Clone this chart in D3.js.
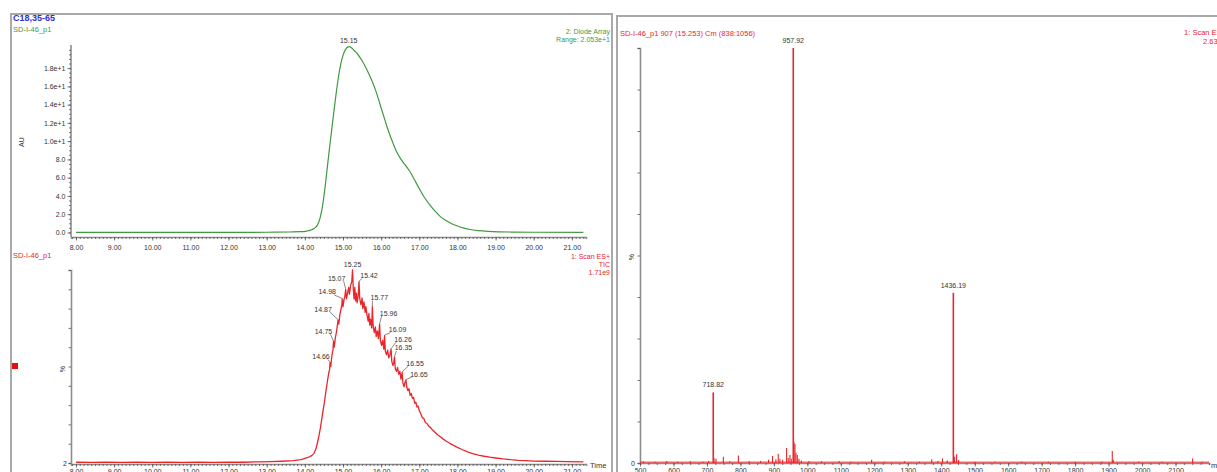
<!DOCTYPE html>
<html><head><meta charset="utf-8">
<script src="https://cdn.jsdelivr.net/npm/d3@7"></script>
<style>
html,body{margin:0;padding:0;background:#fff;}
svg{display:block;font-family:"Liberation Sans",Arial,sans-serif;}
</style></head><body>
<svg id="c" width="1217" height="472"></svg>
<script>
// ---- Diode-array (UV) trace: retention time (min) vs absorbance (AU)
const uvTime = [8.0,9.0,10.0,11.0,12.0,13.0,13.6,13.9,14.05,14.15,14.25,14.33,14.40,14.46,14.52,14.58,14.64,14.70,14.76,14.82,14.88,14.94,15.00,15.06,15.12,15.17,15.23,15.30,15.37,15.50,15.63,15.75,15.87,15.98,16.10,16.20,16.30,16.41,16.52,16.63,16.75,16.87,17.00,17.14,17.28,17.42,17.56,17.70,17.85,18.0,18.15,18.33,18.55,18.8,19.1,19.5,20.0,21.3];
const uvAbs  = [0,0,0,0,0,0.02,0.05,0.08,0.15,0.25,0.45,0.8,1.6,2.8,4.6,6.8,9.0,11.1,13.2,15.2,17.0,18.4,19.4,20.0,20.3,20.35,20.2,19.9,19.6,18.8,17.8,16.7,15.4,13.9,12.3,11.0,9.9,8.8,8.0,7.4,6.7,5.8,4.8,3.8,3.0,2.3,1.7,1.3,0.95,0.7,0.5,0.32,0.2,0.12,0.07,0.04,0.02,0];
const uvPeakTime = 15.15;
const uvYTicks = [0,2,4,6,8,10,12,14,16,18];
const uvYTickLabels = ["0.0","2.0","4.0","6.0","8.0","1.0e+1","1.2e+1","1.4e+1","1.6e+1","1.8e+1"];

// ---- Total ion current: retention time (min) vs relative intensity (%)
const ticTime = [8.00,8.40,8.80,9.20,9.60,10.00,10.40,10.80,11.20,11.60,12.00,12.40,12.80,13.10,13.40,13.70,13.90,14.00,14.10,14.18,14.24,14.29,14.33,14.37,14.41,14.45,14.48,14.51,14.54,14.57,14.60,14.63,14.65,14.66,14.68,14.70,14.72,14.74,14.75,14.77,14.80,14.83,14.85,14.87,14.89,14.92,14.95,14.97,14.98,15.00,15.03,15.05,15.07,15.09,15.12,15.15,15.17,15.20,15.23,15.25,15.27,15.29,15.31,15.33,15.35,15.37,15.40,15.42,15.44,15.47,15.50,15.52,15.55,15.58,15.60,15.63,15.66,15.68,15.70,15.72,15.75,15.77,15.79,15.82,15.85,15.87,15.90,15.93,15.96,15.98,16.01,16.04,16.07,16.09,16.11,16.14,16.17,16.20,16.23,16.26,16.28,16.31,16.33,16.35,16.37,16.40,16.43,16.46,16.49,16.52,16.55,16.57,16.60,16.62,16.65,16.67,16.70,16.73,16.76,16.79,16.82,16.85,16.88,16.91,16.94,16.97,17.00,17.04,17.08,17.12,17.16,17.20,17.25,17.30,17.36,17.42,17.48,17.55,17.62,17.70,17.80,17.90,18.00,18.12,18.25,18.40,18.55,18.70,18.85,19.00,19.20,19.40,19.60,19.80,20.00,20.30,20.60,20.90,21.30];
const ticPct  = [0.4,0.3,0.5,0.3,0.4,0.3,0.5,0.3,0.4,0.3,0.5,0.4,0.6,0.7,0.9,1.2,1.8,2.4,3.0,3.8,5.0,7.2,10.5,14.0,18.5,23.5,27.5,31.0,35.5,39.5,43.5,47.0,48.5,52,50,54,57,59,63,60,65,68,71,74,72,77,80,82,85,81,85,86.5,90,85,88,91,87.5,92,94,100,90,85,91,84,88,83,87,94,85,82,85.5,80,83.5,78,81,76.5,73.5,77.5,71.5,74.5,70,81,71,67.5,70.5,65.5,68.5,64.5,72,63.5,61,63.5,59,66,58,56,58.5,54.5,56,59,52.5,50.5,52,55,49,47.5,49.5,46,47.5,43.5,47,41.5,39.5,41.5,43,39.5,37.5,38.5,35,36,33.5,34,31,31.5,29,29.5,27,25.5,23.5,23,21,20.5,19,18.2,16.8,15.8,14.6,13.6,12.5,11.4,10.2,9.1,8.1,7.0,5.9,4.9,4.1,3.5,3.0,2.6,2.1,1.7,1.4,1.2,1.0,0.9,0.8,0.7,0.6];
const ticTagTime = [14.66,14.75,14.87,14.98,15.07,15.25,15.42,15.77,15.96,16.09,16.26,16.35,16.55,16.65];
const ticTagPct  = [52,63,74,85,90,100,94,81,72,66,59,55,47,43];

// ---- Combined mass spectrum (ES+): m/z vs relative intensity (%)
const msMz  = [510,545,580,612,650,688,705,718.82,721,727,749,768,794,826,860,884,896,906,913,918,926,938,943,948,952,957.92,960,963,966,970,975,982,1005,1042,1095,1130,1192,1230,1290,1335,1371.5,1390,1404,1418,1436.19,1440,1446,1452,1500,1560,1640,1720,1800,1880,1911,1914,1990,2060,2151,2180];
const msInt = [0.4,0.3,0.5,0.3,0.4,0.3,0.5,17,1.2,1.0,1.5,0.4,1.8,0.4,0.5,0.8,1.7,0.9,2.2,1.0,0.8,3.6,1.2,1.9,1.0,100,5,4.6,2.5,1.9,1.0,0.6,0.5,0.4,0.5,0.3,0.8,0.3,0.4,0.3,0.9,0.5,1.1,0.6,41,1.5,2.1,0.7,0.3,0.3,0.3,0.3,0.3,0.3,2.9,0.8,0.3,0.3,1.1,0.3];
const msTagMz = [718.82,957.92,1436.19];

const timeTicks = [8,9,10,11,12,13,14,15,16,17,18,19,20,21];
const timeTickLabels = ["8.00","9.00","10.00","11.00","12.00","13.00","14.00","15.00","16.00","17.00","18.00","19.00","20.00","21.00"];
const mzTicks = [500,600,700,800,900,1000,1100,1200,1300,1400,1500,1600,1700,1800,1900,2000,2100];
const mzTickLabels = mzTicks.map(String);

// ---- layout
const RED = "#e8262b", GREEN = "#3f9a3f", BLUE = "#2f2fd0", AXIS = "#8c8c8c", TXT = "#333";
// label offsets (px) of each TIC peak tag relative to its apex
const tagNudge = [[-9,-6],[-10,-10],[-15,-11],[-15,-7],[-9,-11],[0,-6],[10,-6],[7,-9],[9,-11],[13,-6],[12,-10],[9,-9],[13,-9],[13,-6]];

const svg = d3.select("#c");

// panel frames
const frame = svg.append("g").attr("fill","none").attr("stroke","#a9a9a9").attr("stroke-width",2);
frame.append("path").attr("d","M11,472V14H612V472");
frame.append("path").attr("d","M617,472V16H1217");

function txt(x,y,s,opts={}) {
  const t = svg.append("text").attr("x",x).attr("y",y).text(s)
    .attr("font-size",opts.size||7).attr("fill",opts.fill||TXT)
    .attr("text-anchor",opts.anchor||"start");
  if (opts.weight) t.attr("font-weight",opts.weight);
  if (opts.rotate) t.attr("transform",`rotate(-90,${x},${y})`);
  return t;
}
function styleAxis(g){
  g.select(".domain").attr("stroke",AXIS).attr("stroke-width",1.6);
  g.selectAll(".tick line").attr("stroke","#555").attr("stroke-width",0.8);
  g.selectAll(".tick text").attr("fill",TXT).attr("font-size",7).attr("font-family","Liberation Sans, Arial, sans-serif");
}

// ---- shared time scale
const xT = d3.scaleLinear().domain([7.87,21.37]).range([71,586]);
const minorTime = d3.range(79,214).map(v=>v/10);

function timeAxis(y, labelDy, pad){
  const gMinor = svg.append("g").attr("transform",`translate(0,${y})`)
    .call(d3.axisBottom(xT).tickValues(minorTime).tickSize(2).tickFormat(""));
  styleAxis(gMinor);
  const gMajor = svg.append("g").attr("transform",`translate(0,${y})`)
    .call(d3.axisBottom(xT).tickValues(timeTicks).tickSize(3.5).tickPadding(pad).tickFormat((d,i)=>timeTickLabels[i]));
  styleAxis(gMajor);
  gMajor.select(".domain").remove();
  gMajor.selectAll(".tick text").attr("dy",labelDy);
}

// ---- UV chart
const yUV = d3.scaleLinear().domain([-0.5,20.53]).range([237,45]);
txt(13,21,"C18,35-65",{size:9,fill:BLUE,weight:"bold"});
txt(13,32,"SD-I-46_p1",{size:7.5,fill:GREEN});
txt(610,34,"2: Diode Array",{size:7,fill:GREEN,anchor:"end"});
txt(610,42,"Range: 2.053e+1",{size:7,fill:GREEN,anchor:"end"});
txt(24,142,"AU",{size:7,rotate:true,anchor:"middle"});

const gUVyMinor = svg.append("g").attr("transform","translate(71,0)")
  .call(d3.axisLeft(yUV).tickValues(d3.range(0,41).map(v=>v/2)).tickSize(2).tickFormat(""));
styleAxis(gUVyMinor);
gUVyMinor.select(".domain").attr("d","M0,237V45");
const gUVy = svg.append("g").attr("transform","translate(71,0)")
  .call(d3.axisLeft(yUV).tickValues(uvYTicks).tickSize(3.5).tickFormat((d,i)=>uvYTickLabels[i]));
styleAxis(gUVy); gUVy.select(".domain").remove();
gUVy.selectAll(".tick text").attr("dx",1);
timeAxis(237,"0.9em",3);

svg.append("path").datum(d3.zip(uvTime,uvAbs))
  .attr("fill","none").attr("stroke",GREEN).attr("stroke-width",1.2)
  .attr("d",d3.line().x(d=>xT(d[0])).y(d=>yUV(d[1])).curve(d3.curveMonotoneX));
const uvApex = d3.max(uvAbs);
txt(xT(uvPeakTime),yUV(uvApex)-4,uvPeakTime.toFixed(2),{anchor:"middle"});

// ---- TIC chart
const yTIC = d3.scaleLinear().domain([0,100]).range([463,270]);
txt(13,258,"SD-I-46_p1",{size:7.5,fill:RED});
txt(610,259,"1: Scan ES+",{size:7,fill:RED,anchor:"end"});
txt(610,267,"TIC",{size:7,fill:RED,anchor:"end"});
txt(610,275,"1.71e9",{size:7,fill:RED,anchor:"end"});
svg.append("rect").attr("x",12).attr("y",363).attr("width",6).attr("height",6).attr("fill","#e01010");

const gTy = svg.append("g").attr("transform","translate(71,0)")
  .call(d3.axisLeft(yTIC).tickValues(d3.range(0,101,10)).tickSize(2.5).tickFormat(""));
styleAxis(gTy);
txt(65,369,"%",{size:7,rotate:true,anchor:"middle"});
txt(67,466,"2",{size:7,anchor:"end"});
timeAxis(464,"0.7em",1.5);
txt(590,468,"Time",{size:7.5});

svg.append("path").datum(d3.zip(ticTime,ticPct))
  .attr("fill","none").attr("stroke",RED).attr("stroke-width",1.3).attr("stroke-linejoin","round")
  .attr("d",d3.line().x(d=>xT(d[0])).y(d=>yTIC(d[1])));

const tags = svg.append("g");
ticTagTime.forEach((t,i)=>{
  const px = xT(t), py = yTIC(ticTagPct[i]);
  const [dx,dy] = tagNudge[i];
  const cx = px+dx, cy = py+dy;
  tags.append("text").attr("x",cx).attr("y",cy+2.5).attr("text-anchor","middle")
    .attr("font-size",7).attr("fill",TXT).text(t.toFixed(2));
  if (Math.abs(dx) > 5) {
    const sx = dx < 0 ? cx+7 : cx-7;
    tags.append("line").attr("x1",sx).attr("y1",cy+3).attr("x2",px).attr("y2",py-0.5)
      .attr("stroke","#555").attr("stroke-width",0.7);
  }
});

// ---- Mass spectrum
const xM = d3.scaleLinear().domain([500,2200]).range([640,1209]);
const yM = d3.scaleLinear().domain([0,100]).range([463,48]);
txt(620,36,"SD-I-46_p1 907 (15.253) Cm (838:1056)",{size:7.5,fill:RED});
txt(1226,35,"1: Scan ES+",{size:7.5,fill:RED,anchor:"end"});
txt(1226,44,"2.63e8",{size:7.5,fill:RED,anchor:"end"});

const gMy = svg.append("g").attr("transform","translate(640,0)")
  .call(d3.axisLeft(yM).tickValues(d3.range(0,101,10)).tickSize(2.5).tickFormat(""));
styleAxis(gMy);
txt(634,257,"%",{size:7,rotate:true,anchor:"middle"});
txt(635,466,"0",{size:7,anchor:"end"});

const gMxMinor = svg.append("g").attr("transform","translate(0,463)")
  .call(d3.axisBottom(xM).tickValues(d3.range(500,2201,25)).tickSize(2).tickFormat(""));
styleAxis(gMxMinor);
const gMx = svg.append("g").attr("transform","translate(0,463)")
  .call(d3.axisBottom(xM).tickValues(mzTicks).tickSize(3.5).tickPadding(1.5).tickFormat((d,i)=>mzTickLabels[i]));
styleAxis(gMx); gMx.select(".domain").remove();
gMx.selectAll(".tick text").attr("dy","0.7em");
txt(1211,468,"m/z",{size:7.5});

// baseline and centroid sticks
svg.append("line").attr("x1",xM(500)).attr("x2",xM(2200)).attr("y1",yM(0.2)).attr("y2",yM(0.2))
  .attr("stroke",RED).attr("stroke-width",1);
svg.append("g").selectAll("line").data(d3.zip(msMz,msInt)).join("line")
  .attr("x1",d=>xM(d[0])).attr("x2",d=>xM(d[0]))
  .attr("y1",yM(0)).attr("y2",d=>yM(d[1]))
  .attr("stroke",RED).attr("stroke-width",d=>d[1]>10?1.6:1.1);
msTagMz.forEach(m=>{
  const v = msInt[msMz.indexOf(m)];
  txt(xM(m),yM(v)-5,m.toFixed(2),{anchor:"middle"});
});
</script>
</body></html>
